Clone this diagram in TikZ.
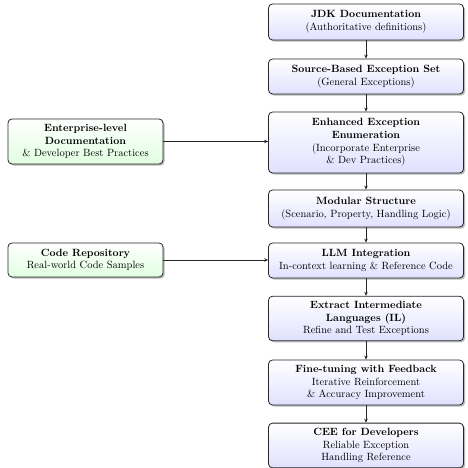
\documentclass[tikz,border=0pt]{standalone}
\usetikzlibrary{arrows.meta,shadows}
\begin{document}
\begin{tikzpicture}[x=1pt,y=1pt,
  base/.style={draw=black!85, line width=0.8pt, rounded corners=4pt, align=center,
    inner xsep=2pt, inner ysep=5pt, font=\fontsize{10.5}{12.6}\selectfont,
    drop shadow={shadow xshift=1.6pt, shadow yshift=-1.6pt, fill=black!45, opacity=0.6}},
  mainbox/.style={base, minimum width=195pt, top color=white, bottom color=blue!12},
  sidebox/.style={base, minimum width=155pt, top color=white, bottom color=green!12},
  flow/.style={draw=black!85, line width=0.8pt, -{Stealth[length=4pt,width=3.5pt]}}
]
\useasboundingbox (0,0) rectangle (467,468);
\node[mainbox, minimum height=36pt] (jdk) at (366,446) {\textbf{JDK Documentation}\\(Authoritative definitions)};
\node[mainbox, minimum height=35pt] (src) at (366,391.5) {\textbf{Source-Based Exception Set}\\(General Exceptions)};
\node[mainbox, minimum height=61pt] (enh) at (366,325.5) {\textbf{Enhanced Exception}\\\textbf{Enumeration}\\(Incorporate Enterprise\\\& Dev Practices)};
\node[mainbox, minimum height=37pt] (mod) at (366,259.5) {\textbf{Modular Structure}\\(Scenario, Property, Handling Logic)};
\node[mainbox, minimum height=35pt] (llm) at (366,207.5) {\textbf{LLM Integration}\\In-context learning \& Reference Code};
\node[mainbox, minimum height=43pt] (il) at (366,149.5) {\textbf{Extract Intermediate}\\\textbf{Languages (IL)}\\Refine and Test Exceptions};
\node[mainbox, minimum height=45pt] (ft) at (366,85.5) {\textbf{Fine-tuning with Feedback}\\Iterative Reinforcement\\\& Accuracy Improvement};
\node[mainbox, minimum height=43pt] (cee) at (366,22.5) {\textbf{CEE for Developers}\\Reliable Exception\\Handling Reference};
\node[sidebox, minimum height=45pt] (ent) at (85.5,326.5) {\textbf{Enterprise-level}\\\textbf{Documentation}\\\& Developer Best Practices};
\node[sidebox, minimum height=34pt] (repo) at (85.5,208) {\textbf{Code Repository}\\Real-world Code Samples};
\draw[flow] (jdk) -- (src);
\draw[flow] (src) -- (enh);
\draw[flow] (enh) -- (mod);
\draw[flow] (mod) -- (llm);
\draw[flow] (llm) -- (il);
\draw[flow] (il) -- (ft);
\draw[flow] (ft) -- (cee);
\draw[flow] (ent.east) -- (ent.east -| enh.west);
\draw[flow] (repo.east) -- (repo.east -| llm.west);
\end{tikzpicture}
\end{document}
